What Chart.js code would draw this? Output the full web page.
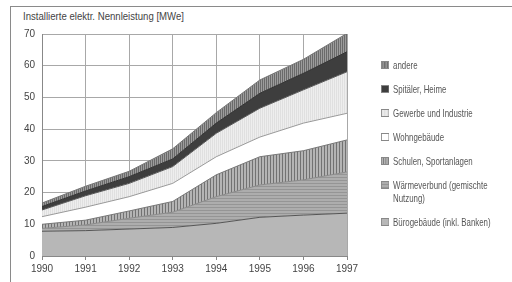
<!DOCTYPE html>
<html lang="de">
<head>
<meta charset="utf-8">
<title>Installierte elektr. Nennleistung</title>
<script src="https://cdn.jsdelivr.net/npm/chart.js@4.4.0/dist/chart.umd.min.js"></script>
<style>
    html, body { margin: 0; padding: 0; background: #fff; }
    #wrap { position: relative; width: 512px; height: 282px; overflow: hidden;
            font-family: "Liberation Sans", Arial, sans-serif; color: #333; }
    #frame { position: absolute; left: 10px; top: 6px; right: 0; bottom: -2px;
             border-top: 1px solid #8a8a8a; border-left: 1px solid #8a8a8a; }
    #title { position: absolute; left: 23px; top: 11px; font-size: 10px; color: #444;
             white-space: nowrap; transform: scaleX(0.96); transform-origin: left top; }
    #legend { position: absolute; left: 381px; top: 59px; width: 170px; font-size: 10.5px; color: #555;
              transform: scaleX(0.75); transform-origin: left top; }
    .item { position: relative; padding-left: 16px; line-height: 12.5px;
            margin-bottom: 11.5px; white-space: pre; }
    .item canvas { position: absolute; left: 0; top: 2px; }
    #chart { position: absolute; left: 0; top: 0; }
</style>
</head>
<body>
<div id="wrap">
    <div id="frame"></div>
    <div id="title">Installierte elektr. Nennleistung [MWe]</div>
    <canvas id="chart" width="512" height="282"></canvas>
    <div id="legend"></div>
</div>
<script>
// Daten (MWe), von unten nach oben gestapelt
const years = ['1990', '1991', '1992', '1993', '1994', '1995', '1996', '1997'];
const buero = [7.8, 8.0, 8.5, 9.0, 10.3, 12.2, 12.9, 13.5];
const waermeverbund = [0.9, 1.8, 3.4, 4.8, 8.4, 10.2, 11.1, 13.0];
const schulen = [1.3, 1.5, 2.3, 3.4, 6.9, 8.9, 9.2, 10.1];
const wohngebaeude = [2.4, 4.1, 4.5, 5.7, 5.7, 6.2, 8.7, 8.4];
const gewerbe = [2.1, 3.6, 4.2, 5.3, 7.4, 9.1, 10.5, 13.1];
const spitaeler = [1.1, 1.5, 2.1, 2.4, 3.2, 4.7, 5.2, 6.3];
const andere = [1.1, 1.5, 1.7, 3.2, 3.3, 4.2, 4.4, 5.8];
const yMax = 70;
const yStep = 10;

/**
 * Erzeugt ein einfaches Streifenmuster (Rasterfüllung wie im Scan).
 * @param {string} base - Grundfarbe
 * @param {string} line - Farbe der Streifen
 * @param {string} dir - 'v' vertikal, 'h' horizontal
 * @param {number} gap - Abstand der Streifen in px
 */
function makePattern(base, line, dir, gap) {
    const c = document.createElement('canvas');
    c.width = gap;
    c.height = gap;
    const g = c.getContext('2d');
    g.fillStyle = base;
    g.fillRect(0, 0, gap, gap);
    g.fillStyle = line;
    if (dir === 'v') {
        g.fillRect(0, 0, 1, gap);
    } else {
        g.fillRect(0, 0, gap, 1);
    }
    return g.createPattern(c, 'repeat');
}

const canvas = document.getElementById('chart');
const ctx = canvas.getContext('2d');

const datasets = [
    { label: 'Bürogebäude (inkl. Banken)', data: buero,
      backgroundColor: '#b7b7b7', borderColor: '#555', fill: 'origin' },
    { label: 'Wärmeverbund (gemischte\nNutzung)', data: waermeverbund,
      backgroundColor: makePattern('#adadad', '#959595', 'h', 3), borderColor: '#8a8a8a', fill: '-1' },
    { label: 'Schulen, Sportanlagen', data: schulen,
      backgroundColor: makePattern('#b4b4b4', '#727272', 'v', 3), borderColor: '#777', fill: '-1' },
    { label: 'Wohngebäude', data: wohngebaeude,
      backgroundColor: '#ffffff', borderColor: '#999', fill: '-1' },
    { label: 'Gewerbe und Industrie', data: gewerbe,
      backgroundColor: makePattern('#eeeeee', '#e0e0e0', 'v', 2), borderColor: '#555', fill: '-1' },
    { label: 'Spitäler, Heime', data: spitaeler,
      backgroundColor: '#3e3e3e', borderColor: '#333', fill: '-1' },
    { label: 'andere', data: andere,
      backgroundColor: makePattern('#9c9c9c', '#6a6a6a', 'v', 2), borderColor: '#777', fill: '-1' }
];

datasets.forEach(function(ds) {
    ds.borderWidth = 1;
    ds.pointRadius = 0;
    ds.tension = 0;
});

const chart = new Chart(ctx, {
    type: 'line',
    data: { labels: years, datasets: datasets },
    options: {
        responsive: false,
        animation: false,
        layout: { padding: { left: 23, top: 34, right: 165, bottom: 0 } },
        plugins: {
            legend: { display: false },
            tooltip: { enabled: false },
            filler: { propagate: false }
        },
        scales: {
            x: {
                offset: false,
                grid: { color: '#a8a8a8', tickLength: 4, tickColor: '#888' },
                border: { color: '#888' },
                ticks: { color: '#444', padding: 3, font: { family: 'Liberation Sans', size: 10 } },
                afterFit: function(scale) { scale.height = 26; }
            },
            y: {
                stacked: true,
                min: 0,
                max: yMax,
                grid: { color: '#a8a8a8', drawTicks: false },
                border: { color: '#888' },
                ticks: { stepSize: yStep, color: '#444', padding: 7,
                         font: { family: 'Liberation Sans', size: 10 } },
                afterFit: function(scale) { scale.width = 19; }
            }
        }
    }
});

// Legende als HTML, oberste Schicht zuerst
const legend = document.getElementById('legend');
datasets.slice().reverse().forEach(function(ds) {
    const item = document.createElement('div');
    item.className = 'item';
    const sw = document.createElement('canvas');
    sw.width = 11;
    sw.height = 8;
    const s = sw.getContext('2d');
    s.fillStyle = ds.backgroundColor;
    s.fillRect(0, 0, 11, 8);
    s.strokeStyle = '#888';
    s.strokeRect(0.5, 0.5, 10, 7);
    item.appendChild(sw);
    item.appendChild(document.createTextNode(ds.label));
    legend.appendChild(item);
});
</script>
</body>
</html>
